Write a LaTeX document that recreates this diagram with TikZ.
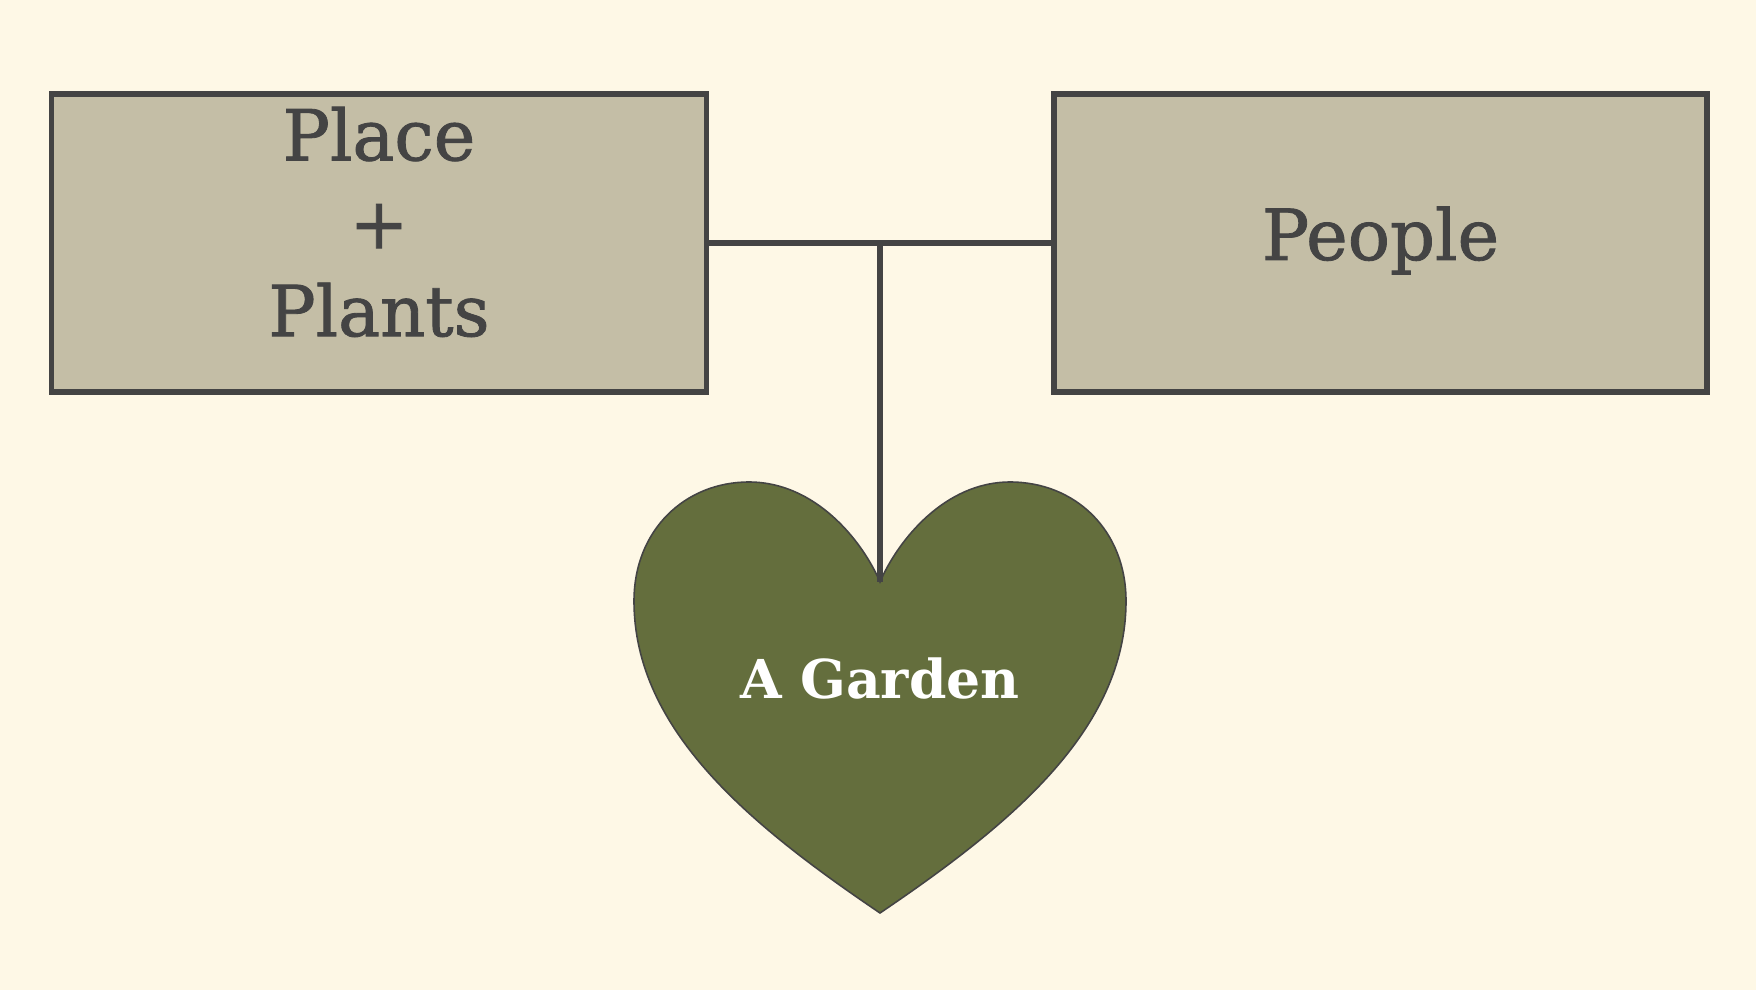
\documentclass[tikz,border=0pt]{standalone}
\usepackage{fontspec}
\setmainfont{DejaVu Serif}
\newfontfamily\boxfont[FakeBold=1.2]{DejaVu Serif}
\definecolor{bg}{HTML}{FEF8E6}
\definecolor{boxfill}{HTML}{C4BEA6}
\definecolor{ink}{HTML}{444444}
\definecolor{leaf}{HTML}{646E3D}
\begin{document}
\begin{tikzpicture}[x=0.04cm,y=-0.04cm,
  box/.style={draw=ink, fill=boxfill, line width=6.5pt, minimum width=655*0.04cm, minimum height=298*0.04cm, inner sep=0pt},
  boxtext/.style={text=ink, align=center, inner sep=0pt, font=\boxfont\fontsize{80}{100}\selectfont},
  link/.style={draw=ink, line width=6.5pt}]
\fill[bg] (0,0) rectangle (1756,990);
\useasboundingbox (0,0) rectangle (1756,990);
\node[box] (place) at (379,243) {};
\node[box, minimum width=653*0.04cm] (people) at (1380.5,243) {};
\node[boxtext] (placetext) at (379,222) {Place\\+\\Plants};
\node[boxtext] (peopletext) at (1380.5,240.5) {People};
\coordinate (dip) at (880,582);
\fill[leaf, draw=ink, line width=1.8pt] (dip)
  .. controls (862,540) and (815,482) .. (749,482)
  .. controls (685,482) and (634,530) .. (634,601)
  .. controls (634,730) and (750,825) .. (880,913)
  .. controls (1010,825) and (1126,730) .. (1126,601)
  .. controls (1126,530) and (1075,482) .. (1010,482)
  .. controls (945,482) and (898,540) .. (dip) -- cycle;
\node[text=white, font=\fontsize{61}{70}\selectfont\bfseries] (garden) at (880,679) {A Garden};
\coordinate (junction) at (dip |- place.east);
\draw[link] (place.east) -- (people.west);
\draw[link] (junction) -- (dip);
\end{tikzpicture}
\end{document}
